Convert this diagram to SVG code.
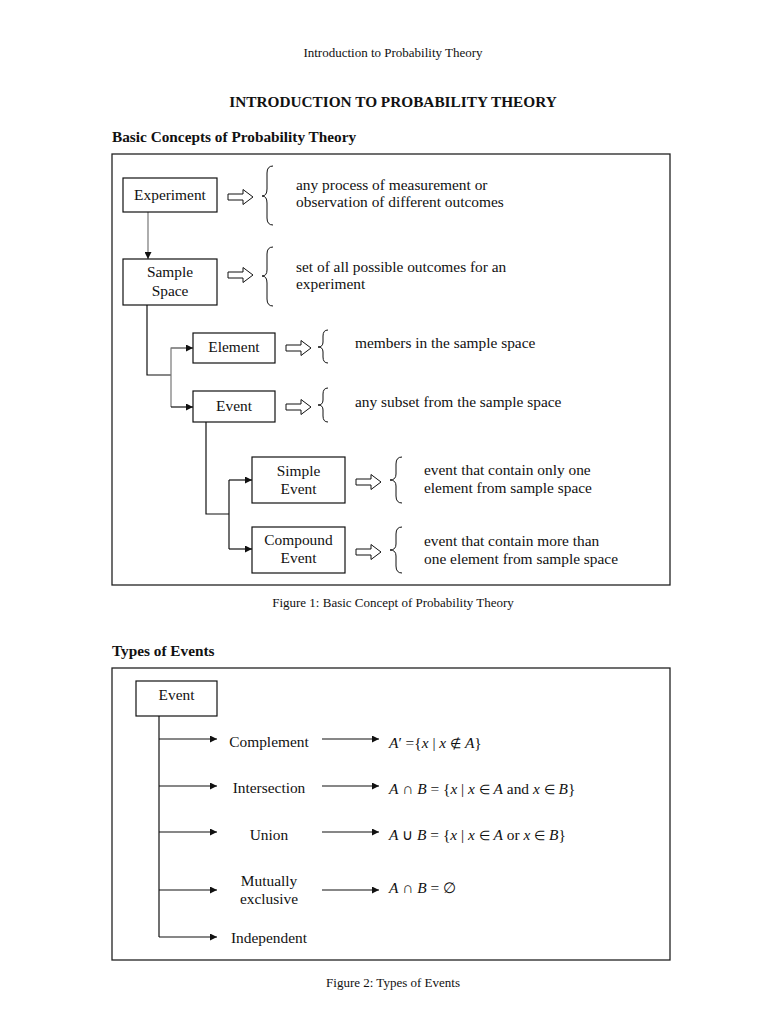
<svg xmlns="http://www.w3.org/2000/svg" width="768" height="1024" viewBox="0 0 768 1024">
<style>
text{font-family:"Liberation Serif","Times New Roman",serif;fill:#111;}
.t{font-size:15.4px;}
.c{text-anchor:middle;}
.small{font-size:13px;}
.b{font-weight:bold;font-size:15.3px;}
.frame{fill:none;stroke:#222;stroke-width:1.3;}
.node{fill:#fff;stroke:#111;stroke-width:1.2;}
.ln{fill:none;stroke:#111;stroke-width:1.2;}
.gl{fill:none;stroke:#777;stroke-width:1.2;}
.hol{fill:#fff;stroke:#111;stroke-width:1;}
.br{fill:none;stroke:#111;stroke-width:1;}
.i{font-style:italic;}
.sym{font-size:12.5px;}
</style>
<defs>
<marker id="ah" viewBox="0 0 10 10" refX="10" refY="5" markerWidth="8" markerHeight="7" markerUnits="userSpaceOnUse" orient="auto">
<path d="M0,0 L10,5 L0,10 Z" fill="#111"/>
</marker>
<path id="hollow" d="M0,-3 L15,-3 L15,-7.5 L25,0 L15,7.5 L15,3 L0,3 Z"/>
</defs>
<rect width="768" height="1024" fill="#fff"/>

<text class="small c" x="393" y="57">Introduction to Probability Theory</text>
<text class="b c" x="393" y="107">INTRODUCTION TO PROBABILITY THEORY</text>
<text class="b" x="112" y="142">Basic Concepts of Probability Theory</text>

<rect class="frame" x="112" y="154" width="558" height="431"/>

<g id="connectors">
<line class="gl" x1="148" y1="212" x2="148" y2="259" marker-end="url(#ah)"/>
<polyline class="ln" points="147,305 147,375 171,375"/>
<polyline class="gl" points="193,348 171,348 171,407"/>
<line class="gl" x1="171" y1="348" x2="193" y2="348" marker-end="url(#ah)"/>
<line class="ln" x1="171" y1="407" x2="193" y2="407" marker-end="url(#ah)"/>
<polyline class="ln" points="206,422 206,514 229,514"/>
<polyline class="ln" points="229,480 229,549"/>
<line class="ln" x1="229" y1="480" x2="252" y2="480" marker-end="url(#ah)"/>
<line class="ln" x1="229" y1="549" x2="252" y2="549" marker-end="url(#ah)"/>

<line class="ln" x1="159" y1="716" x2="159" y2="937"/>
<line class="ln" x1="159" y1="739" x2="217" y2="739" marker-end="url(#ah)"/>
<line class="ln" x1="159" y1="786" x2="217" y2="786" marker-end="url(#ah)"/>
<line class="ln" x1="159" y1="832" x2="217" y2="832" marker-end="url(#ah)"/>
<line class="ln" x1="159" y1="890" x2="217" y2="890" marker-end="url(#ah)"/>
<line class="ln" x1="159" y1="937" x2="217" y2="937" marker-end="url(#ah)"/>
<line class="ln" x1="322" y1="739" x2="379" y2="739" marker-end="url(#ah)"/>
<line class="ln" x1="322" y1="786" x2="379" y2="786" marker-end="url(#ah)"/>
<line class="ln" x1="322" y1="832" x2="379" y2="832" marker-end="url(#ah)"/>
<line class="ln" x1="322" y1="890" x2="379" y2="890" marker-end="url(#ah)"/>
</g>

<g id="experiment">
<rect class="node" x="123" y="178" width="94" height="34"/>
<text class="t c" x="170" y="200">Experiment</text>
<use href="#hollow" class="hol" x="228" y="197"/>
<path class="br" d="M273,166 Q267,166 267,173 L267,189 Q267,196 262,196 Q267,196 267,203 L267,218 Q267,225 273,225"/>
<text class="t" x="296" y="190">any process of measurement or</text>
<text class="t" x="296" y="207">observation of different outcomes</text>
</g>

<g id="sample-space">
<rect class="node" x="123" y="259" width="94" height="46"/>
<text class="t c" x="170" y="277">Sample</text>
<text class="t c" x="170" y="296">Space</text>
<use href="#hollow" class="hol" x="228" y="275"/>
<path class="br" d="M273,247 Q267,247 267,254 L267,270 Q267,276 262,276 Q267,276 267,283 L267,299 Q267,306 273,306"/>
<text class="t" x="296" y="272">set of all possible outcomes for an</text>
<text class="t" x="296" y="289">experiment</text>
</g>

<g id="element">
<rect class="node" x="193" y="333" width="82" height="30"/>
<text class="t c" x="234" y="352">Element</text>
<use href="#hollow" class="hol" x="286" y="348"/>
<path class="br" d="M328,330 Q323,330 323,336 L323,342 Q323,347 318,347 Q323,347 323,352 L323,357 Q323,363 328,363"/>
<text class="t" x="355" y="348">members in the sample space</text>
</g>

<g id="event">
<rect class="node" x="193" y="391" width="82" height="31"/>
<text class="t c" x="234" y="411">Event</text>
<use href="#hollow" class="hol" x="286" y="407"/>
<path class="br" d="M328,388 Q323,388 323,394 L323,400 Q323,405 318,405 Q323,405 323,410 L323,416 Q323,422 328,422"/>
<text class="t" x="355" y="407">any subset from the sample space</text>
</g>

<g id="simple-event">
<rect class="node" x="252" y="457" width="93" height="46"/>
<text class="t c" x="298.5" y="476">Simple</text>
<text class="t c" x="298.5" y="494">Event</text>
<use href="#hollow" class="hol" x="356" y="482"/>
<path class="br" d="M402,457 Q396,457 396,464 L396,474 Q396,480 390,480 Q396,480 396,486 L396,496 Q396,503 402,503"/>
<text class="t" x="424" y="475">event that contain only one</text>
<text class="t" x="424" y="493">element from sample space</text>
</g>

<g id="compound-event">
<rect class="node" x="252" y="527" width="93" height="46"/>
<text class="t c" x="298.5" y="545">Compound</text>
<text class="t c" x="298.5" y="563">Event</text>
<use href="#hollow" class="hol" x="356" y="552"/>
<path class="br" d="M402,527 Q396,527 396,534 L396,544 Q396,550 390,550 Q396,550 396,556 L396,566 Q396,573 402,573"/>
<text class="t" x="424" y="546">event that contain more than</text>
<text class="t" x="424" y="564">one element from sample space</text>
</g>

<text class="small c" x="393" y="607">Figure 1: Basic Concept of Probability Theory</text>
<text class="b" x="112" y="656">Types of Events</text>

<rect class="frame" x="112" y="668" width="558" height="292"/>

<g id="event-root">
<rect class="node" x="136" y="681" width="81" height="35"/>
<text class="t c" x="176.5" y="700">Event</text>
</g>

<g id="complement">
<text class="t c" x="269" y="747">Complement</text>
<text class="t" x="389" y="748"><tspan class="i">A</tspan>′ ={<tspan class="i">x</tspan> | <tspan class="i">x</tspan> <tspan class="sym">∉</tspan> <tspan class="i">A</tspan>}</text>
</g>
<g id="intersection">
<text class="t c" x="269" y="793">Intersection</text>
<text class="t" x="389" y="794"><tspan class="i">A</tspan> ∩ <tspan class="i">B</tspan> = {<tspan class="i">x</tspan> | <tspan class="i">x</tspan> <tspan class="sym">∈</tspan> <tspan class="i">A</tspan> and <tspan class="i">x</tspan> <tspan class="sym">∈</tspan> <tspan class="i">B</tspan>}</text>
</g>
<g id="union">
<text class="t c" x="269" y="840">Union</text>
<text class="t" x="389" y="840"><tspan class="i">A</tspan> ∪ <tspan class="i">B</tspan> = {<tspan class="i">x</tspan> | <tspan class="i">x</tspan> <tspan class="sym">∈</tspan> <tspan class="i">A</tspan> or <tspan class="i">x</tspan> <tspan class="sym">∈</tspan> <tspan class="i">B</tspan>}</text>
</g>
<g id="mutually-exclusive">
<text class="t c" x="269" y="886">Mutually</text>
<text class="t c" x="269" y="904">exclusive</text>
<text class="t" x="389" y="893"><tspan class="i">A</tspan> ∩ <tspan class="i">B</tspan> = ∅</text>
</g>
<g id="independent">
<text class="t c" x="269" y="943">Independent</text>
</g>

<text class="small c" x="393" y="987">Figure 2: Types of Events</text>
</svg>
